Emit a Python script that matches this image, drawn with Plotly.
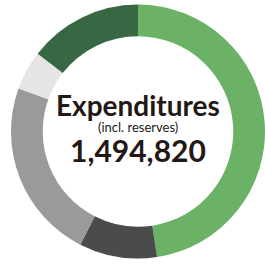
import plotly.graph_objects as go

categories = ["Category A", "Category B", "Category C", "Category D", "Category E"]
values = [711534, 147987, 343809, 74741, 216749]
colors = ["#6bb267", "#4b4b4b", "#9a9a9a", "#e5e5e5", "#376843"]

title_text = "Expenditures"
sub_text = "(incl. reserves)"
total_text = "1,494,820"

dom_x = [11/265, 1.0]
dom_y = [5/264, 1 - 4/264]

fig = go.Figure(go.Pie(
    labels=categories,
    values=values,
    hole=0.75,
    sort=False,
    direction="clockwise",
    rotation=0,
    marker=dict(colors=colors, line=dict(width=0)),
    textinfo="none",
    hoverinfo="label+value",
    domain=dict(x=dom_x, y=dom_y),
))

cx = (dom_x[0] + dom_x[1]) / 2
cy = (dom_y[0] + dom_y[1]) / 2
font_family = "Lato, Noto Sans, sans-serif"
fig.add_annotation(x=cx, y=cy, xref="paper", yref="paper", yshift=27,
                   text="<b>" + title_text + "</b>", showarrow=False,
                   font=dict(family=font_family, size=28, color="#231815"))
fig.add_annotation(x=cx, y=cy, xref="paper", yref="paper", yshift=5,
                   text=sub_text, showarrow=False,
                   font=dict(family=font_family, size=13, color="#231815"))
fig.add_annotation(x=cx, y=cy, xref="paper", yref="paper", yshift=-18,
                   text="<b>" + total_text + "</b>", showarrow=False,
                   font=dict(family=font_family, size=30, color="#231815"))

fig.update_layout(
    width=265, height=264,
    margin=dict(l=0, r=0, t=0, b=0),
    showlegend=False,
    paper_bgcolor="white",
    plot_bgcolor="white",
)

fig.write_html(
    "out.html",
    config={"displayModeBar": False},
    post_script="document.body.style.margin='0';document.body.style.overflow='hidden';",
)
